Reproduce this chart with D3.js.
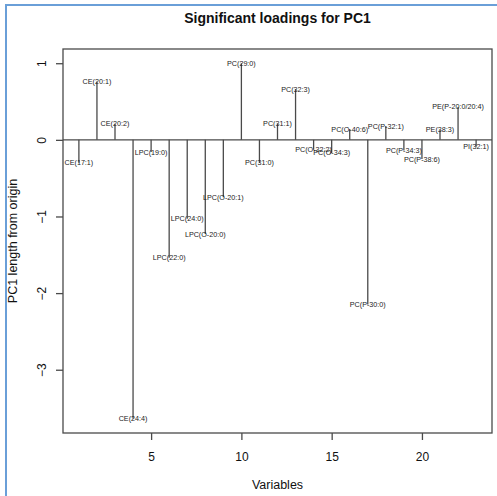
<!DOCTYPE html>
<html>
<head>
<meta charset="utf-8">
<script src="https://cdn.jsdelivr.net/npm/d3@7"></script>
<style>
  html, body { margin: 0; padding: 0; background: #fff; }
  svg { display: block; font-family: "Liberation Sans", Arial, sans-serif; }
</style>
</head>
<body>
<svg id="chart" width="497" height="496"></svg>
<script>
// Lipid species and their PC1 loadings (index = variable number)
const labels = [
  "CE(17:1)", "CE(20:1)", "CE(20:2)", "CE(24:4)", "LPC(19:0)", "LPC(22:0)",
  "LPC(24:0)", "LPC(O-20:0)", "LPC(O-20:1)", "PC(29:0)", "PC(31:0)", "PC(31:1)",
  "PC(32:3)", "PC(O-32:2)", "PC(O-34:3)", "PC(O-40:6)", "PC(P-30:0)", "PC(P-32:1)",
  "PC(P-34:3)", "PC(P-38:6)", "PE(38:3)", "PE(P-20:0/20:4)", "PI(32:1)"
];
const loadings = [
  -0.30, 0.76, 0.21, -3.64, -0.16, -1.54,
  -1.03, -1.23, -0.75, 1.00, -0.30, 0.21,
  0.66, -0.13, -0.17, 0.14, -2.15, 0.18,
  -0.14, -0.25, 0.13, 0.43, -0.09
];
const xTicks = [5, 10, 15, 20];
const yTicks = [-3, -2, -1, 0, 1];

const svg = d3.select("#chart");
const plot = { left: 63, right: 492, top: 49, bottom: 433 };

// frame accent lines along the left and top edges of the page
svg.append("line").attr("x1", 6).attr("x2", 6).attr("y1", 4).attr("y2", 496)
  .attr("stroke", "#6a9fd8").attr("stroke-width", 2);
svg.append("line").attr("x1", 5).attr("x2", 497).attr("y1", 5).attr("y2", 5)
  .attr("stroke", "#6a9fd8").attr("stroke-width", 2);

const n = loadings.length;
const xPad = (n - 1) * 0.04;
const x = d3.scaleLinear().domain([1 - xPad, n + xPad]).range([plot.left, plot.right]);
const yMin = d3.min(loadings), yMax = d3.max(loadings);
const yPad = (yMax - yMin) * 0.04;
const y = d3.scaleLinear().domain([yMin - yPad, yMax + yPad]).range([plot.bottom, plot.top]);

const ink = "#4a4a4a";

// zero reference line
svg.append("line")
  .attr("x1", plot.left).attr("x2", plot.right)
  .attr("y1", y(0)).attr("y2", y(0))
  .attr("stroke", ink).attr("stroke-width", 1.3);

// loading stems
const data = loadings.map((v, i) => ({ i: i + 1, v, label: labels[i] }));
svg.append("g").selectAll("line").data(data).join("line")
  .attr("x1", d => x(d.i)).attr("x2", d => x(d.i))
  .attr("y1", y(0)).attr("y2", d => y(d.v))
  .attr("stroke", ink).attr("stroke-width", 1.3);

// stem-end labels
svg.append("g").selectAll("text").data(data).join("text")
  .attr("x", d => x(d.i)).attr("y", d => y(d.v))
  .attr("dy", "0.35em")
  .attr("text-anchor", "middle")
  .attr("font-size", 7.2)
  .attr("fill", "#222")
  .text(d => d.label);

// plot box
svg.append("rect")
  .attr("x", plot.left).attr("y", plot.top)
  .attr("width", plot.right - plot.left).attr("height", plot.bottom - plot.top)
  .attr("fill", "none").attr("stroke", ink).attr("stroke-width", 1.3);

// x axis
const xAxis = svg.append("g")
  .attr("transform", `translate(0,${plot.bottom})`)
  .call(d3.axisBottom(x).tickValues(xTicks).tickSize(7).tickPadding(12).tickFormat(d3.format("d")));
xAxis.select(".domain").remove();
xAxis.selectAll("line").attr("stroke", ink).attr("stroke-width", 1.3);
xAxis.selectAll("text").attr("font-size", 12).attr("fill", "#111")
  .attr("font-family", "Liberation Sans, Arial, sans-serif");

// y axis with rotated tick labels
const yAxis = svg.append("g")
  .attr("transform", `translate(${plot.left},0)`)
  .call(d3.axisLeft(y).tickValues(yTicks).tickSize(7).tickFormat(d => d3.format("d")(d).replace("-", "\u2212")));
yAxis.select(".domain").remove();
yAxis.selectAll("line").attr("stroke", ink).attr("stroke-width", 1.3);
yAxis.selectAll("text")
  .attr("font-size", 12).attr("fill", "#111")
  .attr("font-family", "Liberation Sans, Arial, sans-serif")
  .attr("x", null).attr("dy", null)
  .attr("text-anchor", "middle")
  .attr("transform", "translate(-21,0) rotate(-90)")
  .attr("y", 0).attr("dy", "0.35em");

// titles
svg.append("text")
  .attr("x", (plot.left + plot.right) / 2).attr("y", 23)
  .attr("text-anchor", "middle").attr("font-size", 14).attr("font-weight", "bold")
  .attr("fill", "#111")
  .text("Significant loadings for PC1");

svg.append("text")
  .attr("x", (plot.left + plot.right) / 2).attr("y", 489)
  .attr("text-anchor", "middle").attr("font-size", 12.5).attr("fill", "#111")
  .text("Variables");

svg.append("text")
  .attr("transform", `translate(17,${(plot.top + plot.bottom) / 2}) rotate(-90)`)
  .attr("text-anchor", "middle").attr("font-size", 12.5).attr("fill", "#111")
  .text("PC1 length from origin");
</script>
</body>
</html>
